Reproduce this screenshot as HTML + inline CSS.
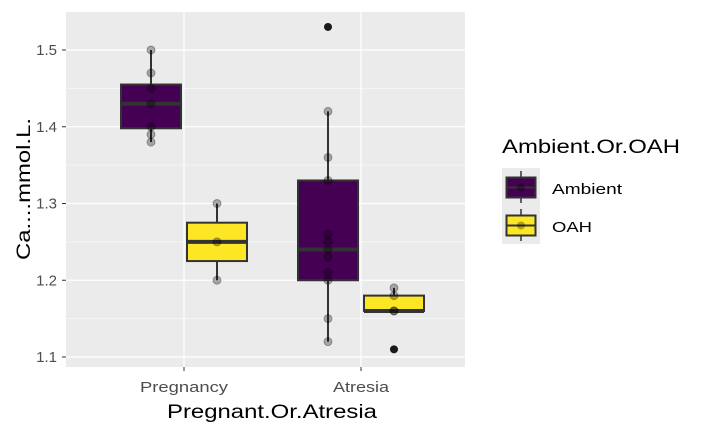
<!DOCTYPE html>
<html><head><meta charset="utf-8"><style>
body{margin:0;background:#fff;font-family:"Liberation Sans",sans-serif}
</style></head><body>
<svg id="c" width="707" height="437" xmlns="http://www.w3.org/2000/svg" font-family="Liberation Sans, sans-serif"></svg>
<script>
const groups=["Pregnancy","Atresia"];
const series=["Ambient","OAH"];
const colors=["#440154","#FDE725"];
// box stats per [group][series]: [lowWhisker,q1,median,q3,highWhisker]
const boxStats=[[[1.38,1.398,1.43,1.455,1.50],[1.20,1.225,1.25,1.275,1.30]],
                [[1.12,1.20,1.24,1.33,1.42],[1.16,1.16,1.16,1.18,1.19]]];
const points=[[[1.5,1.47,1.45,1.43,1.40,1.39,1.38],[1.3,1.25,1.2]],
              [[1.42,1.36,1.33,1.26,1.25,1.24,1.23,1.21,1.20,1.15,1.12],[1.19,1.18,1.16,1.16]]];
const outliers=[[[],[]],[[1.53],[1.11]]];
const yTicks=[1.1,1.2,1.3,1.4,1.5];
const yTickLabels=["1.1","1.2","1.3","1.4","1.5"];
const NS="http://www.w3.org/2000/svg";
const svg=document.getElementById('c');
const L=66,R=465,T=12,B=367;
const y=v=>50+(1.5-v)*767.5;
const xg=i=>184+i*177;
const off=[-33,33], bw=60;
const tickW={"Pregnancy":88,"Atresia":56};
function el(t,a,p){const e=document.createElementNS(NS,t);for(const k in a)e.setAttribute(k,a[k]);(p||svg).appendChild(e);return e;}
const panel=el('rect',{x:L,y:T,width:R-L,height:B-T,fill:'#EBEBEB'});

for(let i=0;i<yTicks.length-1;i++){const v=(yTicks[i]+yTicks[i+1])/2;el('line',{x1:L,x2:R,y1:y(v),y2:y(v),stroke:'#fff','stroke-width':0.6});}
el('line',{x1:L,x2:R,y1:y(1.05),y2:y(1.05),stroke:'#fff','stroke-width':0.6});
el('line',{x1:L,x2:R,y1:y(1.55),y2:y(1.55),stroke:'#fff','stroke-width':0.6});
yTicks.forEach((v,i)=>{
 const g=el('line',{x1:L,x2:R,y1:y(v),y2:y(v),stroke:'#fff','stroke-width':1.2});
 
 el('line',{x1:L-4,x2:L,y1:y(v),y2:y(v),stroke:'#333','stroke-width':1});
 const t=el('text',{x:L-9,y:y(v)+5,'text-anchor':'end','font-size':15,fill:'#4D4D4D'});t.textContent=yTickLabels[i];
 
});
groups.forEach((gname,gi)=>{
 const gx=xg(gi);
 el('line',{x1:gx,x2:gx,y1:T,y2:B,stroke:'#fff','stroke-width':1.2});
 el('line',{x1:gx,x2:gx,y1:B,y2:B+4,stroke:'#333','stroke-width':1});
 const t=el('text',{x:gx-tickW[gname]/2,y:392,'font-size':15,fill:'#4D4D4D',textLength:tickW[gname],lengthAdjust:'spacingAndGlyphs'});t.textContent=gname;
 
});
groups.forEach((gname,gi)=>series.forEach((s,si)=>{
 const cx=xg(gi)+off[si], st=boxStats[gi][si];
 const g=el('g',{});
 
 el('line',{x1:cx,x2:cx,y1:y(st[0]),y2:y(st[4]),stroke:'#333','stroke-width':2},g);
 el('rect',{x:cx-bw/2,y:y(st[3]),width:bw,height:y(st[1])-y(st[3]),fill:colors[si],stroke:'#333','stroke-width':2},g);
 el('line',{x1:cx-bw/2,x2:cx+bw/2,y1:y(st[2]),y2:y(st[2]),stroke:'#333','stroke-width':4},g);
 outliers[gi][si].forEach(v=>{const c=el('circle',{cx:cx,cy:y(v),r:4,fill:'#1a1a1a'},g);});
 points[gi][si].forEach(v=>{const c=el('circle',{cx:cx,cy:y(v),r:4,fill:'rgba(0,0,0,0.3)',stroke:'rgba(0,0,0,0.3)','stroke-width':1},g);});
}));
let t=el('text',{x:167,y:418,'font-size':19,fill:'#000',textLength:210,lengthAdjust:'spacingAndGlyphs'});t.textContent='Pregnant.Or.Atresia';

t=el('text',{x:-71,y:0,'font-size':19,fill:'#000',textLength:142,lengthAdjust:'spacingAndGlyphs',transform:'translate(30,189) rotate(-90)'});t.textContent='Ca....mmol.L.';

t=el('text',{x:502,y:153,'font-size':19,fill:'#000',textLength:178,lengthAdjust:'spacingAndGlyphs'});t.textContent='Ambient.Or.OAH';

const legW=[70,40];
series.forEach((s,si)=>{
 const ky=168+si*38;
 const g=el('g',{});
 el('rect',{x:502,y:ky,width:38,height:38,fill:'#EBEBEB'},g);
 el('line',{x1:521,x2:521,y1:ky+3,y2:ky+35,stroke:'#333','stroke-width':1.5},g);
 el('rect',{x:506.5,y:ky+9.5,width:29,height:20,fill:colors[si],stroke:'#333','stroke-width':2},g);
 el('line',{x1:506,x2:536,y1:ky+19.5,y2:ky+19.5,stroke:'#333','stroke-width':2},g);
 el('circle',{cx:521,cy:ky+19.5,r:4,fill:'rgba(0,0,0,0.3)'},g);
 const lt=el('text',{x:552,y:ky+26,'font-size':15,fill:'#000',textLength:legW[si],lengthAdjust:'spacingAndGlyphs'},g);lt.textContent=s;
});
</script>
</body></html>
